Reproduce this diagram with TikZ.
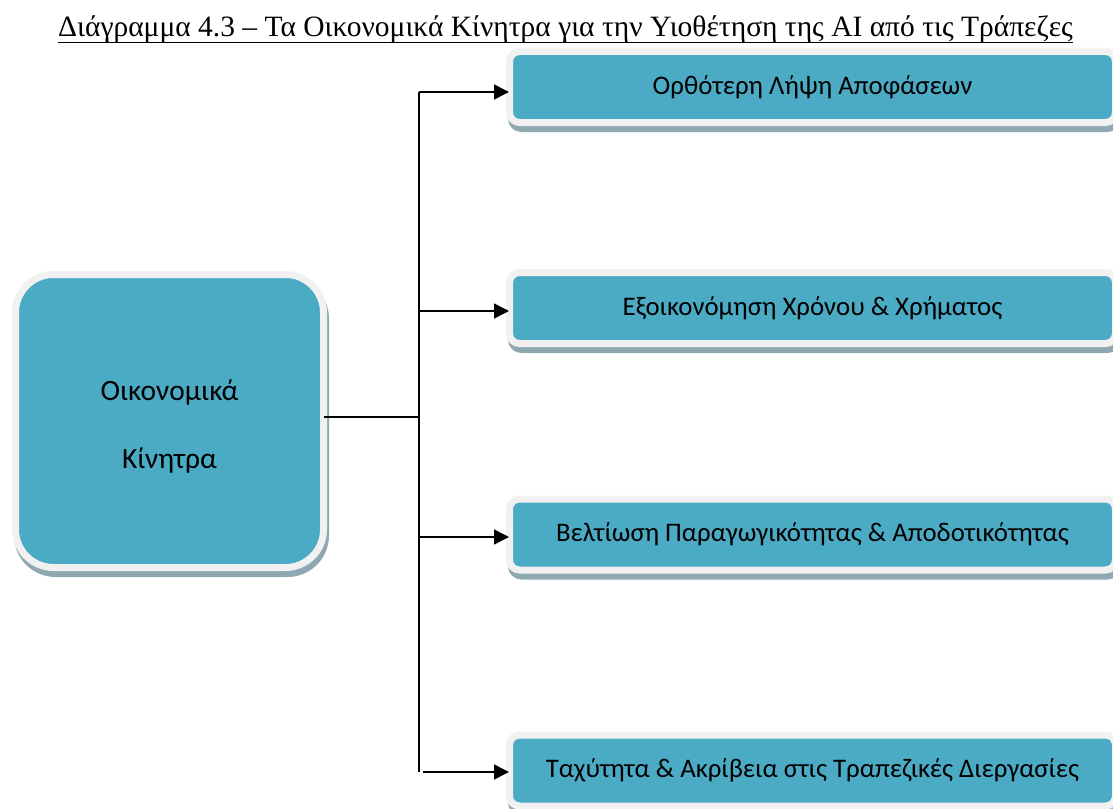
\documentclass[tikz,border=0pt]{standalone}
\usepackage{fontspec}
\setmainfont{Liberation Serif}
\newfontfamily\boxfont{Carlito}
\usetikzlibrary{arrows.meta,shadows}
\definecolor{tealfill}{HTML}{4BABC5}
\definecolor{rimgray}{HTML}{F1F1F1}
\definecolor{shadegray}{HTML}{8FA8B1}
% underline with a rule a little heavier than \underline gives
\newcommand\heavyunderline[1]{\setbox0\hbox{#1}\rlap{\vrule height -4.6pt depth 6pt width \wd0}\box0}
\begin{document}
\begin{tikzpicture}[x=1pt,y=-1pt,
  panel/.style={draw=rimgray, line width=7pt, fill=tealfill, inner sep=0pt,
    text=black, font=\boxfont\fontsize{26.8}{30}\selectfont,
    drop shadow={shadow xshift=2pt, shadow yshift=-6pt, opacity=1,
      fill=shadegray, draw=shadegray, line width=7pt}},
  option/.style={panel, rounded corners=10pt, minimum width=606pt, minimum height=71pt},
  link/.style={line width=1.6pt, draw=black},
  arrowlink/.style={link, -{Triangle[length=15pt,width=15pt]}, shorten >=-3pt}
]
\useasboundingbox (0,0) rectangle (1113,808);

% caption
\node[anchor=base, inner sep=0pt, font=\fontsize{29.5}{35}\selectfont] (title) at (565.5,37)
  {\heavyunderline{Διάγραμμα 4.3 – Τα Οικονομικά Κίνητρα για την Υιοθέτηση της AI από τις Τράπεζες}};

% source box
\node[panel, rounded corners=38pt, minimum width=308pt, minimum height=293pt,
  font=\boxfont\fontsize{29.5}{68}\selectfont] (main) at (169.5,421)
  {\raisebox{-4pt}{\begin{tabular}{@{}c@{}}Οικονομικά\\Κίνητρα\end{tabular}}};

% outcome boxes
\node[option] (b1) at (812.5,87)    {Ορθότερη Λήψη Αποφάσεων};
\node[option] (b2) at (812.5,308)   {Εξοικονόμηση Χρόνου \& Χρήματος};
\node[option] (b3) at (812.5,534.5) {Βελτίωση Παραγωγικότητας \& Αποδοτικότητας};
\node[option] (b4) at (812.5,770.5) {Ταχύτητα \& Ακρίβεια στις Τραπεζικές Διεργασίες};

% trunk points
\coordinate (hub) at (419,417);
\coordinate (t1) at (419,92);
\coordinate (t2) at (419,311);
\coordinate (t3) at (419,537);
\coordinate (t4) at (419,772);

\draw[link, shorten <=-3.5pt] (main.east |- hub) -- (hub);
\draw[link] (t1) -- (t4);
\draw[arrowlink] (t1) -- (t1 -| b1.west);
\draw[arrowlink] (t2) -- (t2 -| b2.west);
\draw[arrowlink] (t3) -- (t3 -| b3.west);
\draw[arrowlink] ([xshift=4pt]t4) -- (t4 -| b4.west);
\end{tikzpicture}
\end{document}
